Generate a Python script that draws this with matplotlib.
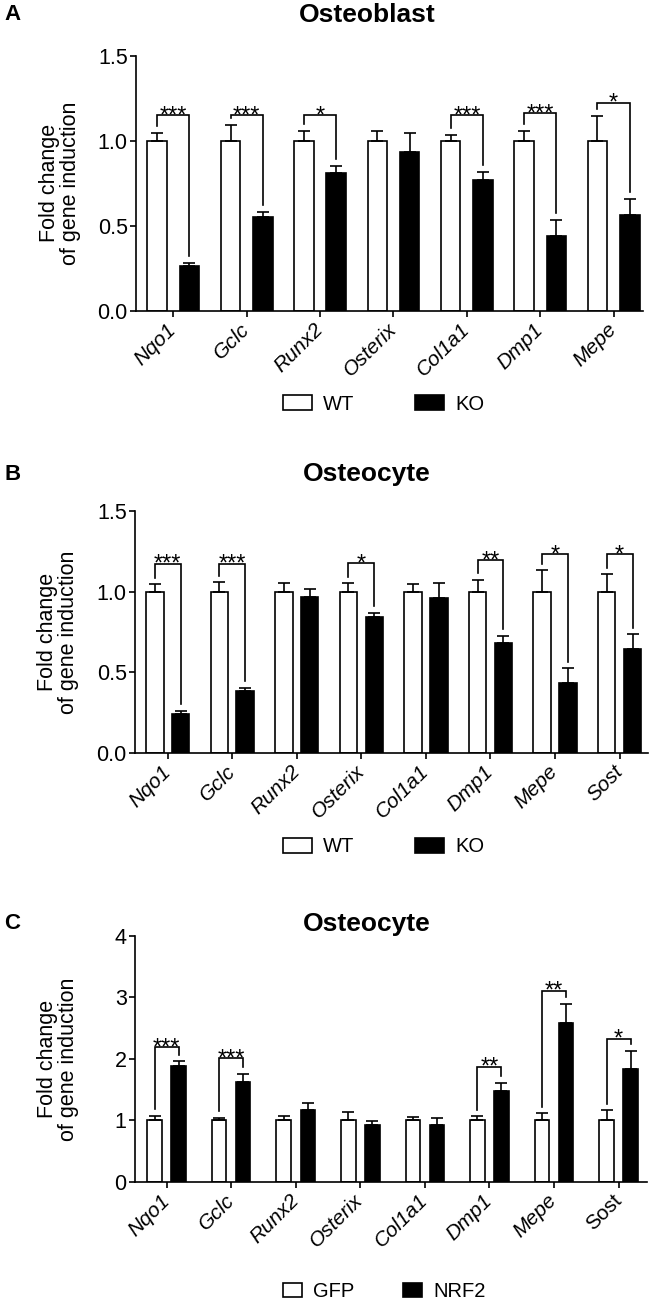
import numpy as np
import matplotlib.pyplot as plt
from matplotlib.patches import Patch

plt.rcParams['font.family'] = ['Liberation Sans', 'DejaVu Sans']

W, H = 661, 1305

# ── Data ─────────────────────────────────────────────────────────────────────
genes_a = ['Nqo1', 'Gclc', 'Runx2', 'Osterix', 'Col1a1', 'Dmp1', 'Mepe']
genes_b = ['Nqo1', 'Gclc', 'Runx2', 'Osterix', 'Col1a1', 'Dmp1', 'Mepe', 'Sost']
genes_c = ['Nqo1', 'Gclc', 'Runx2', 'Osterix', 'Col1a1', 'Dmp1', 'Mepe', 'Sost']

# A: osteoblast, WT vs KO
wt_a      = [1.0, 1.0, 1.0, 1.0, 1.0, 1.0, 1.0]
wt_a_sem  = [0.045, 0.095, 0.059, 0.059, 0.037, 0.059, 0.148]
ko_a      = [0.266, 0.552, 0.813, 0.933, 0.769, 0.438, 0.564]
ko_a_sem  = [0.016, 0.028, 0.041, 0.114, 0.046, 0.095, 0.093]
stars_a   = ['***', '***', '*', '', '***', '***', '*']
brk_a     = [1.152, 1.152, 1.152, None, 1.152, 1.162, 1.225]

# B: osteocyte, WT vs KO
wt_b      = [1.0, 1.0, 1.0, 1.0, 1.0, 1.0, 1.0, 1.0]
wt_b_sem  = [0.046, 0.058, 0.052, 0.052, 0.046, 0.072, 0.133, 0.106]
ko_b      = [0.242, 0.381, 0.965, 0.843, 0.961, 0.683, 0.431, 0.646]
ko_b_sem  = [0.017, 0.021, 0.054, 0.027, 0.091, 0.044, 0.093, 0.089]
stars_b   = ['***', '***', '', '*', '', '**', '*', '*']
brk_b     = [1.172, 1.172, None, 1.176, None, 1.193, 1.232, 1.232]

# C: osteocyte, GFP vs NRF2
gfp_c     = [1.0, 1.0, 1.0, 1.0, 1.0, 1.0, 1.0, 1.0]
gfp_c_sem = [0.07, 0.042, 0.07, 0.129, 0.047, 0.064, 0.113, 0.161]
nrf_c     = [1.883, 1.628, 1.161, 0.917, 0.928, 1.476, 2.589, 1.840]
nrf_c_sem = [0.076, 0.125, 0.114, 0.071, 0.114, 0.131, 0.304, 0.293]
stars_c   = ['***', '***', '', '', '', '**', '**', '*']
brk_c     = [2.187, 2.008, None, None, None, 1.872, 3.110, 2.328]

LW = 1.2


def panel(rect, genes, ctrl, ctrl_sem, trt, trt_sem, stars, brk,
          ymax, yticks, ylabels, xlim, off, bw, upright=()):
    ax = fig.add_axes(rect)
    x = np.arange(len(genes))
    ax.bar(x - off, ctrl, bw, color='white', edgecolor='black', lw=LW, zorder=2)
    ax.bar(x + off, trt, bw, color='black', edgecolor='black', lw=LW, zorder=2)
    z = np.zeros(len(genes))
    for xs, ys, es in [(x - off, ctrl, ctrl_sem), (x + off, trt, trt_sem)]:
        ax.errorbar(xs, ys, yerr=[z, es], fmt='none', ecolor='black',
                    elinewidth=LW, capsize=4.5, capthick=LW, zorder=3)
    gap = 0.027 * ymax
    for i, (s, top) in enumerate(zip(stars, brk)):
        if top is None:
            continue
        y1 = ctrl[i] + ctrl_sem[i] + gap
        y2 = trt[i] + trt_sem[i] + gap
        ax.plot([i - off, i - off, i + off, i + off], [y1, top, top, y2],
                color='black', lw=LW, zorder=4, solid_joinstyle='miter')
        ax.annotate(s, (i, top), xytext=(0, -5), textcoords='offset points',
                    ha='center', va='baseline', fontsize=17)
    ax.set_xlim(*xlim)
    ax.set_ylim(0, ymax)
    ax.set_yticks(yticks)
    ax.set_yticklabels(ylabels)
    ax.set_xticks(x)
    ax.set_xticklabels(genes, rotation=45, ha='right', va='center',
                       rotation_mode='anchor', fontsize=15, style='italic')
    for lab in ax.get_xticklabels():
        if lab.get_text() in upright:
            lab.set_style('normal')
    for s in ['top', 'right']:
        ax.spines[s].set_visible(False)
    for s in ['left', 'bottom']:
        ax.spines[s].set_linewidth(LW)
    ax.tick_params(axis='y', direction='out', length=4.5, width=LW,
                   labelsize=15.5, pad=1.5)
    ax.tick_params(axis='x', direction='out', length=4.5, width=LW, pad=7)
    ax.set_ylabel('Fold change\nof gene induction', fontsize=15.5,
                  linespacing=1.0, va='center')
    ax.yaxis.set_label_coords(-0.15, 0.5)
    return ax


def legend(labels, y, hl, hh, cs):
    handles = [Patch(facecolor='white', edgecolor='black', lw=LW),
               Patch(facecolor='black', edgecolor='black', lw=LW)]
    fig.legend(handles, labels, ncol=2, loc='center left',
               bbox_to_anchor=(283 / W, 1 - y / H), frameon=False,
               fontsize=14.5, handlelength=hl, handleheight=hh,
               handletextpad=0.55, columnspacing=cs,
               borderpad=0, borderaxespad=0)


fig = plt.figure(figsize=(W / 100, H / 100), dpi=100)

def rect(l, r, t, b):
    return [l / W, 1 - b / H, (r - l) / W, (b - t) / H]

panel(rect(136, 643, 56, 310.7), genes_a, wt_a, wt_a_sem, ko_a, ko_a_sem,
      stars_a, brk_a, 1.5, [0, 0.5, 1.0, 1.5], ['0.0', '0.5', '1.0', '1.5'],
      (-0.508, 6.40), 0.22, 0.265)
panel(rect(135, 648, 511, 752.7), genes_b, wt_b, wt_b_sem, ko_b, ko_b_sem,
      stars_b, brk_b, 1.5, [0, 0.5, 1.0, 1.5], ['0.0', '0.5', '1.0', '1.5'],
      (-0.507, 7.44), 0.2, 0.27)
panel(rect(135, 647, 936, 1181.7), genes_c, gfp_c, gfp_c_sem, nrf_c, nrf_c_sem,
      stars_c, brk_c, 4, [0, 1, 2, 3, 4], ['0', '1', '2', '3', '4'],
      (-0.49, 7.44), 0.186, 0.225, upright=('Sost',))

legend(['WT', 'KO'], 404, 1.45, 0.8, 3.0)
legend(['WT', 'KO'], 847, 1.45, 0.8, 3.0)
legend(['GFP', 'NRF2'], 1291.5, 0.95, 0.68, 2.4)

for letter, title, y in [('A', 'Osteoblast', 14.5), ('B', 'Osteocyte', 474),
                         ('C', 'Osteocyte', 923.5)]:
    fig.text(4 / W, 1 - y / H, letter, fontsize=16, fontweight='bold',
             ha='left', va='center')
    fig.text(367 / W, 1 - y / H, title, fontsize=19, fontweight='bold',
             ha='center', va='center')

fig.savefig('out.png', dpi=100, facecolor='white')
